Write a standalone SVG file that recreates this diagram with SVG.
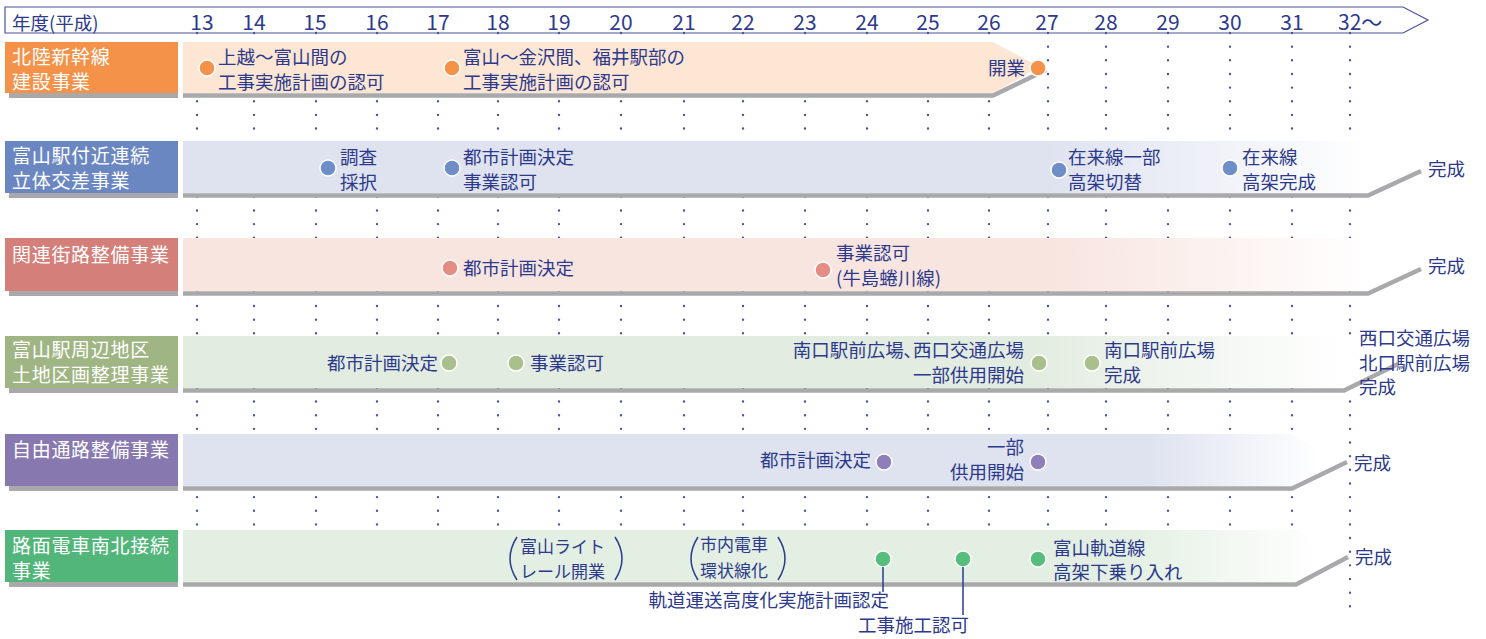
<svg xmlns="http://www.w3.org/2000/svg" width="1486" height="639" viewBox="0 0 1486 639">
<style>
text{font-family:"Noto Sans CJK JP","Noto Sans",sans-serif;fill:#2d3a8c;font-size:18.5px}
.lb{fill:#fff;font-size:19px;letter-spacing:0.7px}
.yr{font-size:21px}
.sm{font-size:17px}
.e{text-anchor:end}
.sh{stroke:#a9a9ab;stroke-width:4.5;fill:none}
.grid{stroke:#4b55a0;stroke-width:2.4;stroke-linecap:round;stroke-dasharray:0 13.65;fill:none}
.ev{stroke:#fff;stroke-width:1.5}
.lsh{fill:#a9a9ab}
.par{stroke:#2d3a8c;stroke-width:1.5;fill:none}
.lead{stroke:#2d3a8c;stroke-width:1.5;fill:none}
</style>
<defs>
<linearGradient id="g2" gradientUnits="userSpaceOnUse" x1="1050" y1="0" x2="1370" y2="0"><stop offset="0" stop-color="#dfe3f0"/><stop offset="1" stop-color="#fff"/></linearGradient>
<linearGradient id="g3" gradientUnits="userSpaceOnUse" x1="1060" y1="0" x2="1370" y2="0"><stop offset="0" stop-color="#f8e5e0"/><stop offset="1" stop-color="#fff"/></linearGradient>
<linearGradient id="g4" gradientUnits="userSpaceOnUse" x1="1030" y1="0" x2="1345" y2="0"><stop offset="0" stop-color="#e3ece1"/><stop offset="1" stop-color="#fff"/></linearGradient>
<linearGradient id="g5" gradientUnits="userSpaceOnUse" x1="1150" y1="0" x2="1320" y2="0"><stop offset="0" stop-color="#dfe3f0"/><stop offset="1" stop-color="#fff"/></linearGradient>
<linearGradient id="g6" gradientUnits="userSpaceOnUse" x1="1120" y1="0" x2="1320" y2="0"><stop offset="0" stop-color="#e3efe2"/><stop offset="1" stop-color="#fff"/></linearGradient>
</defs>
<rect width="1486" height="639" fill="#fff"/>

<g id="header">
<path d="M5,7 H1403 L1428,20 L1403,33 H5 Z" fill="#fff" stroke="#4a539c" stroke-width="1.2"/>
<text x="12" y="30">年度(平成)</text>
<text class="yr" x="202" y="30" text-anchor="middle">13</text>
<text class="yr" x="254" y="30" text-anchor="middle">14</text>
<text class="yr" x="315" y="30" text-anchor="middle">15</text>
<text class="yr" x="377" y="30" text-anchor="middle">16</text>
<text class="yr" x="438" y="30" text-anchor="middle">17</text>
<text class="yr" x="498" y="30" text-anchor="middle">18</text>
<text class="yr" x="559" y="30" text-anchor="middle">19</text>
<text class="yr" x="621" y="30" text-anchor="middle">20</text>
<text class="yr" x="684" y="30" text-anchor="middle">21</text>
<text class="yr" x="743" y="30" text-anchor="middle">22</text>
<text class="yr" x="805" y="30" text-anchor="middle">23</text>
<text class="yr" x="867" y="30" text-anchor="middle">24</text>
<text class="yr" x="928" y="30" text-anchor="middle">25</text>
<text class="yr" x="989" y="30" text-anchor="middle">26</text>
<text class="yr" x="1047" y="30" text-anchor="middle">27</text>
<text class="yr" x="1106" y="30" text-anchor="middle">28</text>
<text class="yr" x="1168" y="30" text-anchor="middle">29</text>
<text class="yr" x="1230" y="30" text-anchor="middle">30</text>
<text class="yr" x="1292" y="30" text-anchor="middle">31</text>
<text class="yr" x="1338" y="30">32〜</text>
</g>

<g id="grid">
<path class="grid" d="M197,33V526 M254,33V526 M316,33V526 M377,33V526 M438,33V526 M498,33V526 M559,33V526 M621,33V526 M684,33V526 M743,33V526 M805,33V526 M867,33V526 M928,33V526 M989,33V526 M1048,33V526 M1106,33V526 M1168,33V526 M1230,33V526 M1292,33V526 M1350,33V614"/>
</g>

<g id="row1">
<rect x="5" y="42" width="173" height="51" fill="#f4924a"/>
<rect class="lsh" x="9" y="93" width="169" height="5"/>
<text class="lb" x="12" y="64">北陸新幹線</text>
<text class="lb" x="12" y="89">建設事業</text>
<polygon points="183,42 993,42 1040,67 993,93 183,93" fill="#fde6d3"/>
<polyline class="sh" points="183,95.5 993,95.5 1046,70"/>
<circle class="ev" cx="207" cy="68" r="8" fill="#f4924a"/>
<text x="218" y="64">上越〜富山間の</text>
<text x="218" y="89">工事実施計画の認可</text>
<circle class="ev" cx="452" cy="68" r="8" fill="#f4924a"/>
<text x="463" y="64">富山〜金沢間、福井駅部の</text>
<text x="463" y="89">工事実施計画の認可</text>
<text class="e" x="1025" y="75">開業</text>
<circle class="ev" cx="1038" cy="68" r="8" fill="#f4924a"/>
</g>

<g id="row2">
<rect x="5" y="141" width="173" height="52" fill="#6b87c2"/>
<rect class="lsh" x="9" y="193" width="169" height="5"/>
<text class="lb" x="12" y="163">富山駅付近連続</text>
<text class="lb" x="12" y="188">立体交差事業</text>
<polygon points="183,141 1368,141 1414,167 1368,193 183,193" fill="url(#g2)"/>
<polyline class="sh" points="183,195.5 1368,195.5 1421,171"/>
<circle class="ev" cx="328" cy="168" r="8" fill="#6f8ec8"/>
<text x="340" y="164">調査</text>
<text x="340" y="189">採択</text>
<circle class="ev" cx="452" cy="168" r="8" fill="#6f8ec8"/>
<text x="463" y="164">都市計画決定</text>
<text x="463" y="189">事業認可</text>
<circle class="ev" cx="1059" cy="170" r="8" fill="#6f8ec8"/>
<text x="1068" y="164">在来線一部</text>
<text x="1068" y="189">高架切替</text>
<circle class="ev" cx="1230" cy="168" r="8" fill="#6f8ec8"/>
<text x="1242" y="164">在来線</text>
<text x="1242" y="189">高架完成</text>
<text x="1428" y="176">完成</text>
</g>

<g id="row3">
<rect x="5" y="238" width="173" height="53" fill="#d47f79"/>
<rect class="lsh" x="9" y="291" width="169" height="5"/>
<text class="lb" x="12" y="262">関連街路整備事業</text>
<polygon points="183,238 1368,238 1414,264 1368,291 183,291" fill="url(#g3)"/>
<polyline class="sh" points="183,293.5 1368,293.5 1421,269"/>
<circle class="ev" cx="450" cy="268" r="8" fill="#e38d85"/>
<text x="463" y="275">都市計画決定</text>
<circle class="ev" cx="823" cy="270" r="8" fill="#e38d85"/>
<text x="836" y="260">事業認可</text>
<text x="836" y="285">(牛島蜷川線)</text>
<text x="1428" y="273">完成</text>
</g>

<g id="row4">
<rect x="5" y="336" width="173" height="52" fill="#9fb583"/>
<rect class="lsh" x="9" y="388" width="169" height="5"/>
<text class="lb" x="12" y="357">富山駅周辺地区</text>
<text class="lb" x="12" y="382">土地区画整理事業</text>
<polygon points="183,336 1345,336 1390,362 1345,388 183,388" fill="url(#g4)"/>
<polyline class="sh" points="183,390.5 1344,390.5 1398,364"/>
<text class="e" x="438" y="370">都市計画決定</text>
<circle class="ev" cx="449" cy="363" r="8" fill="#a9c08d"/>
<circle class="ev" cx="516" cy="363" r="8" fill="#a9c08d"/>
<text x="530" y="370">事業認可</text>
<text class="e" x="1024" y="357">南口駅前広場､西口交通広場</text>
<text class="e" x="1024" y="382">一部供用開始</text>
<circle class="ev" cx="1039" cy="363" r="8" fill="#a9c08d"/>
<circle class="ev" cx="1092" cy="363" r="8" fill="#a9c08d"/>
<text x="1104" y="357">南口駅前広場</text>
<text x="1104" y="382">完成</text>
<text x="1359" y="345">西口交通広場</text>
<text x="1359" y="370">北口駅前広場</text>
<text x="1359" y="394">完成</text>
</g>

<g id="row5">
<rect x="5" y="434" width="173" height="52" fill="#8878b0"/>
<rect class="lsh" x="9" y="486" width="169" height="5"/>
<text class="lb" x="12" y="457">自由通路整備事業</text>
<polygon points="183,434 1291,434 1338,460 1291,486 183,486" fill="url(#g5)"/>
<polyline class="sh" points="183,488.5 1292,488.5 1347,462"/>
<text class="e" x="871" y="467">都市計画決定</text>
<circle class="ev" cx="884" cy="462" r="8" fill="#8e7fbb"/>
<text class="e" x="1024" y="454">一部</text>
<text class="e" x="1024" y="479">供用開始</text>
<circle class="ev" cx="1038" cy="462" r="8" fill="#8e7fbb"/>
<text x="1354" y="470">完成</text>
</g>

<g id="row6">
<rect x="5" y="530" width="173" height="52" fill="#52b57a"/>
<rect class="lsh" x="9" y="582" width="169" height="5"/>
<text class="lb" x="12" y="553">路面電車南北接続</text>
<text class="lb" x="12" y="578">事業</text>
<polygon points="183,530 1296,530 1342,556 1296,582 183,582" fill="url(#g6)"/>
<polyline class="sh" points="183,584.5 1296,584.5 1348,557"/>
<path class="par" d="M517,537 Q503,558.5 517,580 M615,537 Q629,558.5 615,580"/>
<text class="sm" x="520" y="553">富山ライト</text>
<text class="sm" x="520" y="578">レール開業</text>
<path class="par" d="M698,537 Q684,558.5 698,580 M778,537 Q792,558.5 778,580"/>
<text class="sm" x="700" y="551">市内電車</text>
<text class="sm" x="700" y="577">環状線化</text>
<circle class="ev" cx="883" cy="559" r="8" fill="#56bd7d"/>
<circle class="ev" cx="963" cy="559" r="8" fill="#56bd7d"/>
<circle class="ev" cx="1038" cy="559" r="8" fill="#56bd7d"/>
<text x="1053" y="555">富山軌道線</text>
<text x="1053" y="579">高架下乗り入れ</text>
<text x="1355" y="564">完成</text>
<text class="e" x="889" y="607">軌道運送高度化実施計画認定</text>
<text x="858" y="632">工事施工認可</text>
</g>

<g id="connectors">
<line class="lead" x1="883" y1="567" x2="883" y2="592"/>
<line class="lead" x1="963" y1="567" x2="963" y2="615"/>
</g>
</svg>
